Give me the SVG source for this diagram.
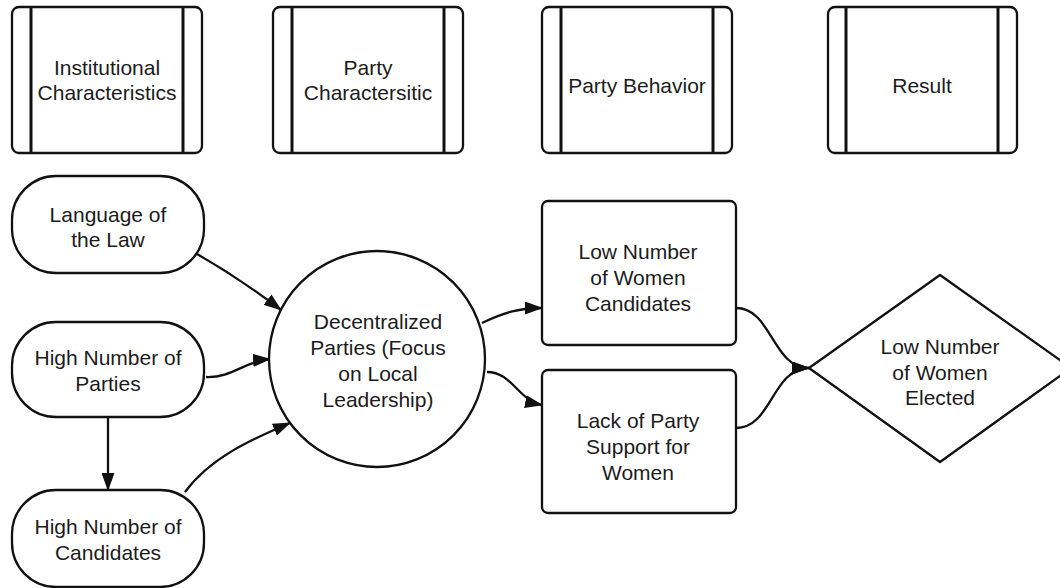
<svg xmlns="http://www.w3.org/2000/svg" width="1060" height="588" viewBox="0 0 1060 588">
<style>
.shape{fill:#fff;stroke:#111;stroke-width:2.3}
.bar{stroke:#111;stroke-width:3}
.lbl{font-family:"Liberation Sans",Arial,sans-serif;font-size:21px;fill:#1c1c1c;text-anchor:middle}
.conn{fill:none;stroke:#111;stroke-width:2.3}
</style>
<defs>
<marker id="arr" markerUnits="userSpaceOnUse" markerWidth="18" markerHeight="13" refX="17" refY="6.5" orient="auto" viewBox="0 0 18 13">
<path d="M0,0 L18,6.5 L0,13 z" fill="#111"/>
</marker>
</defs>
<rect width="1060" height="588" fill="#fff"/>
<g id="hdr-institutional">
<rect class="shape" x="12" y="7" width="190" height="146" rx="7"/>
<line class="bar" x1="31" y1="7" x2="31" y2="153"/>
<line class="bar" x1="183" y1="7" x2="183" y2="153"/>
<text class="lbl"><tspan x="107" y="75">Institutional</tspan><tspan x="107" y="100">Characteristics</tspan></text>
</g>
<g id="hdr-party-char">
<rect class="shape" x="273" y="7" width="190" height="146" rx="7"/>
<line class="bar" x1="292" y1="7" x2="292" y2="153"/>
<line class="bar" x1="444" y1="7" x2="444" y2="153"/>
<text class="lbl"><tspan x="368" y="75">Party</tspan><tspan x="368" y="100">Charactersitic</tspan></text>
</g>
<g id="hdr-party-behavior">
<rect class="shape" x="542" y="7" width="190" height="146" rx="7"/>
<line class="bar" x1="561" y1="7" x2="561" y2="153"/>
<line class="bar" x1="713" y1="7" x2="713" y2="153"/>
<text class="lbl" x="637" y="93">Party Behavior</text>
</g>
<g id="hdr-result">
<rect class="shape" x="828" y="7" width="189" height="146" rx="7"/>
<line class="bar" x1="846" y1="7" x2="846" y2="153"/>
<line class="bar" x1="998" y1="7" x2="998" y2="153"/>
<text class="lbl" x="922" y="93">Result</text>
</g>
<g id="connectors">
<path class="conn" marker-end="url(#arr)" d="M197,254 C225,270 255,290 281,310"/>
<path class="conn" marker-end="url(#arr)" d="M206,377 C232,378 245,361 270,359"/>
<path class="conn" marker-end="url(#arr)" d="M185,492 C210,458 250,440 290,423"/>
<path class="conn" marker-end="url(#arr)" d="M108,417 L108,490"/>
<path class="conn" marker-end="url(#arr)" d="M482,323 C505,312 520,308 542,308"/>
<path class="conn" marker-end="url(#arr)" d="M487,372 C512,372 518,400 542,405"/>
<path class="conn" marker-end="url(#arr)" d="M736,308 C772,308 772,368 809,368"/>
<path class="conn" marker-end="url(#arr)" d="M736,428 C772,428 772,368 809,368"/>
</g>
<g id="language-law">
<rect class="shape" x="12" y="176" width="192" height="97" rx="44"/>
<text class="lbl"><tspan x="108" y="222">Language of</tspan><tspan x="108" y="247">the Law</tspan></text>
</g>
<g id="high-parties">
<rect class="shape" x="12" y="322" width="192" height="95" rx="44"/>
<text class="lbl"><tspan x="108" y="365">High Number of</tspan><tspan x="108" y="391">Parties</tspan></text>
</g>
<g id="high-candidates">
<rect class="shape" x="12" y="490" width="192" height="97" rx="44"/>
<text class="lbl"><tspan x="108" y="534">High Number of</tspan><tspan x="108" y="560">Candidates</tspan></text>
</g>
<g id="decentralized">
<circle class="shape" cx="377" cy="359" r="108"/>
<text class="lbl"><tspan x="378" y="329">Decentralized</tspan><tspan x="378" y="355">Parties (Focus</tspan><tspan x="378" y="381">on Local</tspan><tspan x="378" y="407">Leadership)</tspan></text>
</g>
<g id="low-women-candidates">
<rect class="shape" x="542" y="201" width="194" height="144" rx="6"/>
<text class="lbl"><tspan x="638" y="259">Low Number</tspan><tspan x="638" y="285">of Women</tspan><tspan x="638" y="311">Candidates</tspan></text>
</g>
<g id="lack-support">
<rect class="shape" x="542" y="370" width="194" height="143" rx="6"/>
<text class="lbl"><tspan x="638" y="428">Lack of Party</tspan><tspan x="638" y="454">Support for</tspan><tspan x="638" y="480">Women</tspan></text>
</g>
<g id="low-women-elected">
<polygon class="shape" stroke-linejoin="round" points="809,368 940,275 1071,368 940,462"/>
<text class="lbl"><tspan x="940" y="354">Low Number</tspan><tspan x="940" y="380">of Women</tspan><tspan x="940" y="405">Elected</tspan></text>
</g>
</svg>
